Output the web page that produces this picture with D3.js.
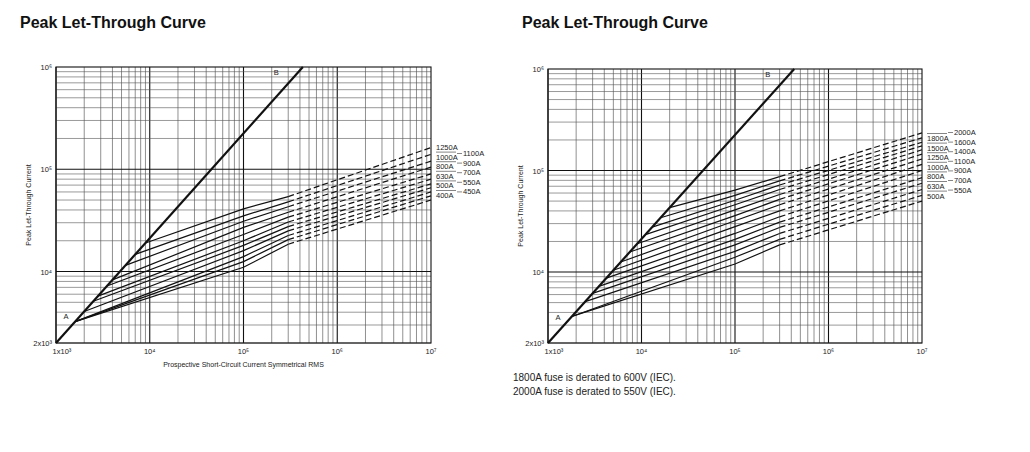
<!DOCTYPE html>
<html><head><meta charset="utf-8">
<script src="https://cdn.jsdelivr.net/npm/d3@7"></script>
<style>body{margin:0;background:#fff;font-family:"Liberation Sans",Arial,sans-serif}</style>
</head><body><svg id="c" width="1030" height="452"></svg>
<script>
// line B (peak let-through limit)
var lineB = [[1e3, 2e3], [4.3e5, 1e6]];

// left chart: 400A .. 1250A
var leftRatings = ["400A","450A","500A","550A","630A","700A","800A","900A","1000A","1100A","1250A"];
var leftStart = [1.6e3,1.6e3,1.6e3,2.0e3,2.5e3,2.8e3,3.5e3,4.0e3,5.5e3,7e3,9e3];
var leftAt1e5 = [1.1e4,1.25e4,1.4e4,1.6e4,1.8e4,2.0e4,2.3e4,2.7e4,3.1e4,3.5e4,4.1e4];
var leftAt3e5 = [1.85e4,2.05e4,2.25e4,2.5e4,2.75e4,3.05e4,3.4e4,3.8e4,4.3e4,4.8e4,5.4e4];
var leftAt1e7 = [5.0e4,5.5e4,6.0e4,6.6e4,7.2e4,8.0e4,9.0e4,1.05e5,1.2e5,1.4e5,1.63e5];

// right chart: 500A .. 2000A
var rightRatings = ["500A","550A","630A","700A","800A","900A","1000A","1100A","1250A","1400A","1500A","1600A","1800A","2000A"];
var rightStart = [1.8e3,1.8e3,2.5e3,3e3,3.5e3,4.2e3,5e3,6e3,7.5e3,9e3,1.1e4,1.3e4,1.6e4,2e4];
var rightAt1e5 = [1.2e4,1.4e4,1.6e4,1.85e4,2.1e4,2.4e4,2.8e4,3.2e4,3.6e4,4.1e4,4.6e4,5.1e4,5.7e4,6.4e4];
var rightAt3e5 = [1.85e4,2.1e4,2.4e4,2.75e4,3.1e4,3.5e4,4.0e4,4.6e4,5.2e4,5.8e4,6.5e4,7.2e4,7.9e4,8.7e4];
var rightAt1e7 = [5.0e4,5.7e4,6.5e4,7.5e4,8.5e4,1.0e5,1.15e5,1.3e5,1.45e5,1.6e5,1.75e5,1.9e5,2.1e5,2.35e5];

var xTicks = ["1x10³","10⁴","10⁵","10⁶","10⁷"];
var yTicks = [[2e3,"2x10³"],[1e4,"10⁴"],[1e5,"10⁵"],[1e6,"10⁶"]];

var svg = d3.select("#c");

function onB(x) {
  var lx = d3.scaleLog().domain([lineB[0][0], lineB[1][0]]).range([Math.log10(lineB[0][1]), Math.log10(lineB[1][1])]);
  return Math.pow(10, lx(x));
}

function drawChart(o) {
  var g = svg.append("g");
  var x = d3.scaleLog().domain([1e3, 1e7]).range([o.x0, o.x1]);
  var y = d3.scaleLog().domain([2e3, 1e6]).range([o.y1, o.y0]);

  g.append("text").attr("x", o.tx).attr("y", 28).attr("font-size", 16).attr("font-weight", "bold")
    .attr("fill", "#111").text("Peak Let-Through Curve");

  // grid
  for (var d = 3; d < 7; d++) for (var k = 1; k < 10; k++) {
    var v = k * Math.pow(10, d);
    g.append("line").attr("x1", x(v)).attr("x2", x(v)).attr("y1", o.y0).attr("y2", o.y1)
      .attr("stroke", k == 1 ? "#111" : "#444").attr("stroke-width", k == 1 ? 1.1 : 0.6);
  }
  for (var d = 3; d < 6; d++) for (var k = 1; k < 10; k++) {
    var v = k * Math.pow(10, d);
    if (v < 2e3) continue;
    g.append("line").attr("x1", o.x0).attr("x2", o.x1).attr("y1", y(v)).attr("y2", y(v))
      .attr("stroke", k == 1 ? "#111" : "#555").attr("stroke-width", k == 1 ? 1.1 : 0.6);
  }
  g.append("rect").attr("x", o.x0).attr("y", o.y0).attr("width", o.x1 - o.x0).attr("height", o.y1 - o.y0)
    .attr("fill", "none").attr("stroke", "#111").attr("stroke-width", 1.1);

  // tick labels
  [1e3,1e4,1e5,1e6,1e7].forEach(function (v, i) {
    g.append("text").attr("x", x(v) + (i == 0 ? 6 : 0)).attr("y", o.y1 + 11).attr("font-size", 7.5)
      .attr("text-anchor", "middle").attr("fill", "#222").text(xTicks[i]);
  });
  yTicks.forEach(function (t) {
    g.append("text").attr("x", o.x0 - 4).attr("y", y(t[0]) + 3).attr("font-size", 7.5)
      .attr("text-anchor", "end").attr("fill", "#222").text(t[1]);
  });
  g.append("text").attr("transform", "translate(" + (o.x0 - 25) + "," + ((o.y0 + o.y1) / 2) + ") rotate(-90)")
    .attr("font-size", 7).attr("text-anchor", "middle").attr("fill", "#222").text("Peak Let-Through Current");
  if (o.xlabel) g.append("text").attr("x", (o.x0 + o.x1) / 2).attr("y", o.y1 + 24).attr("font-size", 7)
    .attr("text-anchor", "middle").attr("fill", "#222").text(o.xlabel);

  var line = d3.line().x(function (p) { return x(p[0]); }).y(function (p) { return y(p[1]); });

  // fuse curves
  o.start.forEach(function (s, i) {
    var solid = [[s, onB(s)], [1e5, o.a1e5[i]], [3e5, o.a3e5[i]]];
    g.append("path").attr("d", line(solid)).attr("fill", "none").attr("stroke", "#111").attr("stroke-width", 1.2);
    g.append("path").attr("d", line([[3e5, o.a3e5[i]], [1e7, o.a1e7[i]]])).attr("fill", "none")
      .attr("stroke", "#111").attr("stroke-width", 1.2).attr("stroke-dasharray", "6,3");
  });

  // line B
  g.append("path").attr("d", line(lineB)).attr("fill", "none").attr("stroke", "#111").attr("stroke-width", 2.2);
  g.append("text").attr("x", x(2.1e5)).attr("y", y(8.3e5)).attr("font-size", 7.5).attr("fill", "#222").text("B");
  g.append("text").attr("x", x(1.2e3)).attr("y", y(3.4e3)).attr("font-size", 7.5).attr("fill", "#222").text("A");

  // rating labels in two staggered columns, largest at top
  var names = o.ratings.slice().reverse();
  var lx = o.x1 + 5;
  var p = o.firstCol;
  var colA = names.filter(function (n, i) { return i % 2 == p; });
  var colB = names.filter(function (n, i) { return i % 2 != p; });
  colA.forEach(function (n, i) {
    var ty = o.ly + i * 9.6;
    if (o.overline || i > 0) g.append("line").attr("x1", lx).attr("x2", lx + 20).attr("y1", ty - 7.5).attr("y2", ty - 7.5)
      .attr("stroke", "#333").attr("stroke-width", 0.6);
    g.append("text").attr("x", lx).attr("y", ty).attr("font-size", 7.5).attr("fill", "#222").text(n);
  });
  colB.forEach(function (n, i) {
    var ty = o.ly + i * 9.6 + o.offB;
    g.append("line").attr("x1", lx + 21).attr("x2", lx + 26).attr("y1", ty - 2.5).attr("y2", ty - 2.5)
      .attr("stroke", "#333").attr("stroke-width", 0.6);
    g.append("text").attr("x", lx + 27).attr("y", ty).attr("font-size", 7.5).attr("fill", "#222").text(n);
  });
}

drawChart({x0: 56, x1: 431, y0: 67, y1: 343, tx: 20, xlabel: "Prospective Short-Circuit Current Symmetrical RMS",
  ratings: leftRatings, start: leftStart, a1e5: leftAt1e5, a3e5: leftAt3e5, a1e7: leftAt1e7,
  ly: 150, offB: 6, firstCol: 0, overline: false});
drawChart({x0: 548, x1: 922, y0: 69, y1: 343, tx: 522,
  ratings: rightRatings, start: rightStart, a1e5: rightAt1e5, a3e5: rightAt3e5, a1e7: rightAt1e7,
  ly: 141, offB: -6, firstCol: 1, overline: true});

svg.append("text").attr("x", 513).attr("y", 381).attr("font-size", 10).attr("fill", "#222")
  .text("1800A fuse is derated to 600V (IEC).");
svg.append("text").attr("x", 513).attr("y", 395).attr("font-size", 10).attr("fill", "#222")
  .text("2000A fuse is derated to 550V (IEC).");
</script></body></html>
